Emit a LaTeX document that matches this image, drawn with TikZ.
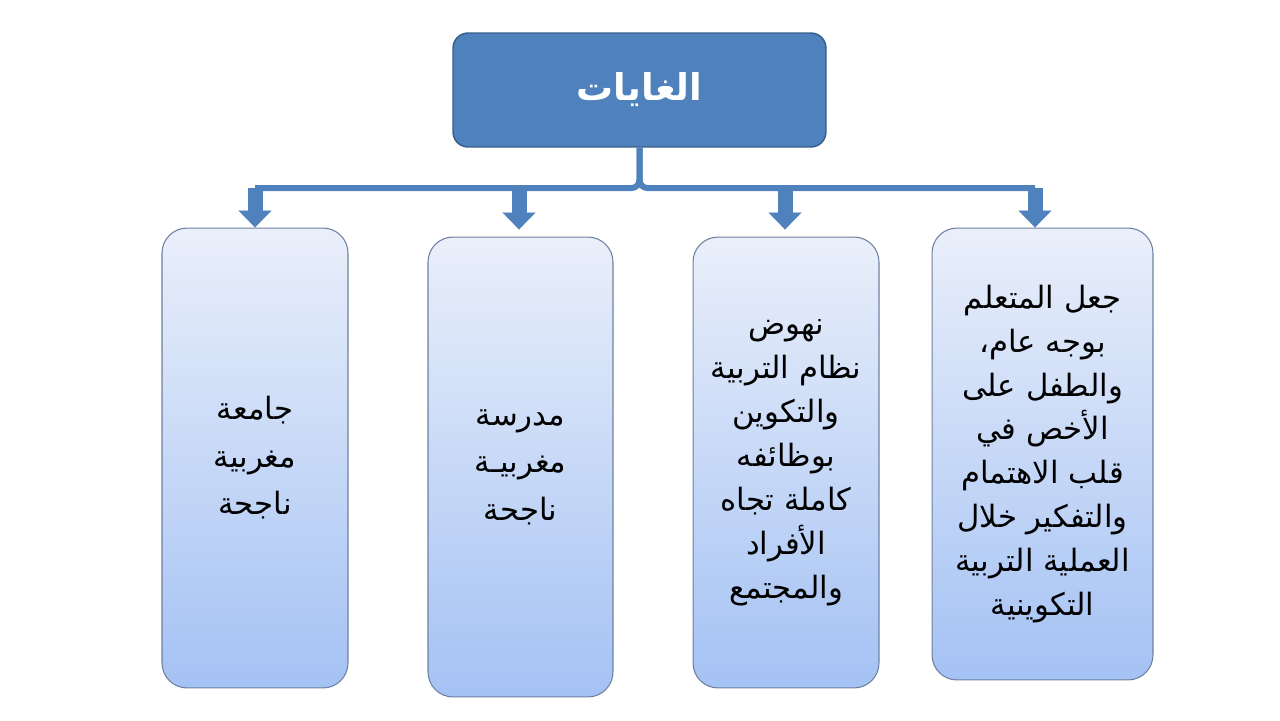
\documentclass[tikz,border=0pt]{standalone}
\usepackage{fontspec}
\usepackage{tikz}
\usetikzlibrary{arrows.meta, positioning, calc}
\newfontfamily\arabicfont[Script=Arabic]{DejaVu Sans}
\TeXXeTstate=1
\definecolor{headfill}{RGB}{79, 129, 189}
\definecolor{headline}{RGB}{56, 93, 138}
\definecolor{boxtop}{RGB}{234, 239, 250}
\definecolor{boxbottom}{RGB}{164, 194, 244}
\definecolor{boxline}{RGB}{110, 128, 160}
\definecolor{barblue}{RGB}{79, 129, 189}
\newcommand{\rtl}[1]{\beginR #1\endR}
\tikzset{
    headbox/.style={rectangle, rounded corners=0.3cm, draw=headline, fill=headfill, thick, minimum width=7.46cm, minimum height=2.28cm, text=white, font=\arabicfont\bfseries\fontsize{21}{26}\selectfont},
    goalbox/.style={rectangle, rounded corners=0.5cm, draw=boxline, semithick, top color=boxtop, bottom color=boxbottom, align=center, minimum height=9.1cm, font=\arabicfont\fontsize{17.5}{25}\selectfont},
    bar/.style={line width=0.12cm, draw=barblue, rounded corners=0.16cm},
    downarrow/.style={line width=0.3cm, draw=barblue, -{Triangle[width=0.66cm, length=0.34cm, line width=0.1pt]}}
}

\begin{document}
\begin{tikzpicture}[x=0.02cm, y=-0.02cm]
    \useasboundingbox (0,0) rectangle (1280,720);

    \node (goals) [headbox] at (639.5,90) {\rtl{الغايات}};

    \node (university) [goalbox, minimum width=3.72cm, minimum height=9.2cm] at (255,458)
        {\rtl{جامعة}\\[2pt] \rtl{مغربية}\\[2pt] \rtl{ناجحة}};
    \node (school) [goalbox, minimum width=3.7cm, minimum height=9.2cm] at (520.5,467)
        {\rtl{مدرسة}\\[2pt] \rtl{مغربيـة}\\[2pt] \rtl{ناجحة}};
    \node (system) [goalbox, minimum width=3.72cm, minimum height=9.02cm] at (786,462.5)
        {\rtl{نهوض}\\ \rtl{نظام التربية}\\ \rtl{والتكوين}\\ \rtl{بوظائفه}\\
         \rtl{كاملة تجاه}\\ \rtl{الأفراد}\\ \rtl{والمجتمع}};
    \node (learner) [goalbox, minimum width=4.42cm, minimum height=9.04cm] at (1042.5,454)
        {\rtl{جعل المتعلم}\\ \rtl{بوجه عام،}\\ \rtl{والطفل على}\\ \rtl{الأخص في}\\
         \rtl{قلب الاهتمام}\\ \rtl{والتفكير خلال}\\ \rtl{العملية التربية}\\ \rtl{التكوينية}};

    \coordinate (c1) at (255,188);
    \coordinate (c2) at (519,188);
    \coordinate (c3) at (785,188);
    \coordinate (c4) at (1035,188);

    \draw [bar] (goals.south) |- (c1);
    \draw [bar] (goals.south) |- (c4);

    \draw [downarrow] (c1) -- (c1 |- university.north);
    \draw [downarrow] (c2) -- ($(c2 |- school.north)+(0,-7)$);
    \draw [downarrow] (c3) -- ($(c3 |- system.north)+(0,-7)$);
    \draw [downarrow] (c4) -- (c4 |- learner.north);

\end{tikzpicture}
\end{document}
